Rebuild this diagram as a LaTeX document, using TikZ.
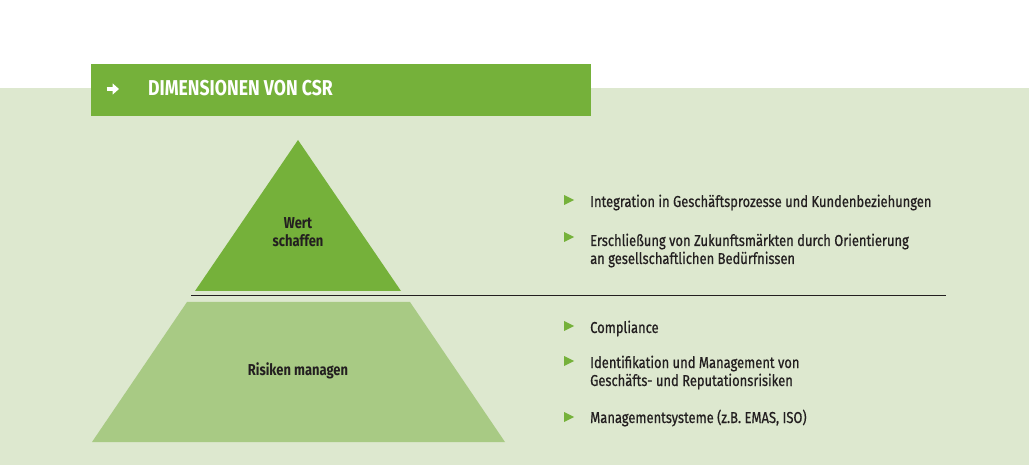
\documentclass[tikz,border=0pt]{standalone}
\usepackage{fontspec}
\usetikzlibrary{arrows.meta}
\setmainfont{Fira Sans}[FakeStretch=0.82]
\newfontfamily\itemfont{Fira Sans}[FakeStretch=0.82,FakeBold=0.6]
\definecolor{bgg}{HTML}{DDE8CF}
\definecolor{hdr}{HTML}{75B13A}
\definecolor{trap}{HTML}{A8CA84}
\definecolor{txt}{HTML}{231F20}
\begin{document}
\begin{tikzpicture}[x=1pt,y=-1pt,
  lbl/.style={text=txt,font=\itemfont\fontsize{15.8}{18}\selectfont,inner sep=0pt},
  item/.style={lbl,anchor=base west,align=left},
  ctr/.style={text=txt,font=\fontsize{15.8}{18}\selectfont\bfseries,align=center,inner sep=0pt,anchor=base}]
\useasboundingbox (0,0) rectangle (1029,465);
\fill[white] (0,0) rectangle (1029,465);
\fill[bgg] (0,88) rectangle (1029,465);
\fill[hdr] (91,64) rectangle (591,116);
\coordinate (a1) at (106.5,89);
\coordinate (a2) at (119,89);
\draw[white,line width=3.4pt,-{Triangle[width=11pt,length=6.5pt]}] (a1) -- (a2);
\node[text=white,font=\fontsize{21.5}{21.5}\selectfont\bfseries,anchor=base west,inner sep=0pt] (title) at (148,96) {DIMENSIONEN VON CSR};
% pyramid
\fill[hdr] (298,140) -- (401,291) -- (195,291) -- cycle;
\fill[trap] (187,302) -- (410,302) -- (505,442) -- (92,442) -- cycle;
\node[ctr] (wert) at (298,247) {Wert\\schaffen};
\node[ctr] (risk) at (298,375) {Risiken managen};
\coordinate (l1) at (191,296);
\coordinate (l2) at (946,296);
\draw[txt,line width=1pt] (l1) -- (l2);
% bullets
\foreach \y in {200,237,326,361,417}{
  \fill[hdr] (564,\y-5) -- (574,\y) -- (564,\y+5) -- cycle;
}
\node[item] (i1) at (590,207) {Integration in Geschäftsprozesse und Kundenbeziehungen};
\node[item] (i2) at (590,264) {Erschließung von Zukunftsmärkten durch Orientierung\\an gesellschaftlichen Bedürfnissen};
\node[item] (i3) at (590,333) {Compliance};
\node[item] (i4) at (590,386) {Identifikation und Management von\\Geschäfts- und Reputationsrisiken};
\node[item] (i5) at (590,423) {Managementsysteme (z.B. EMAS, ISO)};
\end{tikzpicture}
\end{document}
